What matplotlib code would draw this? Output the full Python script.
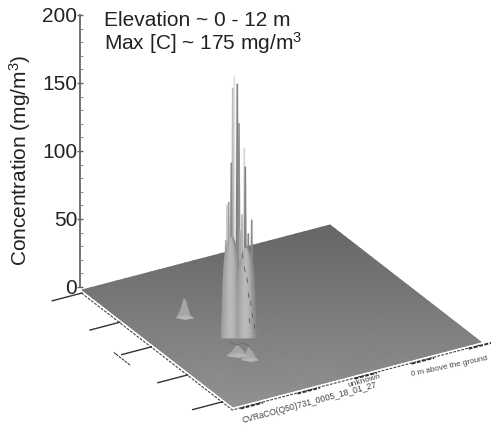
import numpy as np
import matplotlib
matplotlib.use("Agg")
import matplotlib.pyplot as plt

plt.rcParams['font.family'] = ['Liberation Sans', 'DejaVu Sans']
plt.rcParams['mathtext.default'] = 'regular'

# ---- data ----
z_ticks = [0, 50, 100, 150, 200]
# thin spikes: ground u, ground v, concentration height, grey tone
spike_u = [.5493, .5521, .5471, .5565, .5588, .5615, .5665, .5694, .5710, .5744, .5782, .5799, .5849, .5906]
spike_v = [.2502, .2554, .2463, .2632, .2674, .2722, .2813, .2864, .2894, .2954, .3024, .3054, .3144, .3247]
spike_h = [98, 100, 72, 129, 184, 193, 187, 158, 79, 91, 140, 126, 77, 87]
spike_grey = [.78, .62, .68, .55, .74, .88, .50, .56, .66, .70, .84, .50, .52, .55]
# wide lobes at the base of the plume
lobe_u = [.5560, .5810]
lobe_v = [.2640, .3090]
lobe_h = [74, 66]
# low hills on the ground
hill_u = [.3512, .6827, .7283]
hill_v = [.2015, .2134, .2340]
hill_h = [14, 8, 10]
hill_w = [9, 12, 9]
# dark flecks in the right lobe
fleck_u = [.575, .578, .583, .586, .590, .593, .585, .595]
fleck_v = [.296, .303, .310, .314, .320, .325, .318, .332]
fleck_h = [62, 52, 44, 33, 27, 18, 14, 10]
# edge ticks
u_ticks = [0.0, .25, .46, .70, .93]
v_ticks = [.03, .26, .49, .72, .95]

# ---- oblique view ----
ORIGIN = (82.0, 290.0); EU = (151.0, 117.0); EV = (248.0, -65.0)
Z0 = 287.0; ZS = 1.36

def view(u, v, c=0.0):
    u, v, c = np.asarray(u, float), np.asarray(v, float), np.asarray(c, float)
    x = ORIGIN[0] + EU[0]*u + EV[0]*v
    py = ORIGIN[1] + EU[1]*u + EV[1]*v
    return x, (Z0 - py)/ZS + c

def dy(px):  # screen pixel offset expressed in concentration units
    return px/ZS

fig = plt.figure(figsize=(4.97, 4.30), dpi=100)
ax = fig.add_axes([0, 0, 1, 1])
ax.set_xlim(0, 497)
ax.set_ylim((Z0-430)/ZS, Z0/ZS)
ax.patch.set_alpha(0)
for s in ['top', 'right', 'bottom']:
    ax.spines[s].set_visible(False)
ax.spines['left'].set_position(('data', 80))
ax.spines['left'].set_bounds(0, 200)
ax.spines['left'].set_color('#666666')
ax.spines['left'].set_linewidth(1.3)
ax.set_xticks([])
ax.set_yticks(z_ticks)
ax.set_yticks(np.arange(0, 201, 10), minor=True)
ax.tick_params(axis='y', which='major', direction='inout', length=4, width=1, color='#666666', labelsize=15, pad=0, labelcolor='#222222')
ax.tick_params(axis='y', which='minor', direction='in', length=2, width=.7, color='#888888')
ax.text(20, (Z0-160)/ZS, 'Concentration (mg/m$^3$)', rotation=90, ha='center', va='center', fontsize=15, color='#222222')
ax.text(104, (Z0-20)/ZS, 'Elevation ~ 0 - 12 m', ha='left', va='center', fontsize=15, color='#222222')
ax.text(104, (Z0-43)/ZS, 'Max [C] ~ 175 mg/m$^3$', ha='left', va='center', fontsize=15, color='#222222')

# floor
uu, vv = np.meshgrid(np.linspace(0, 1, 30), np.linspace(0, 1, 30))
fx, fy = view(uu, vv)
floor = 0.40 + 0.17*(fy.max()-fy)/(fy.max()-fy.min())
ax.pcolormesh(fx, fy, floor, shading='gouraud', cmap='gray', vmin=0, vmax=1, zorder=1, rasterized=True)

# hills
for u, v, h, w in zip(hill_u, hill_v, hill_h, hill_w):
    bx, by = view(u, v)
    ax.fill([bx-w, bx-w*.55, bx-1.5, bx+.5, bx+w*.6, bx+w, bx],
            [by, by+dy(h*.55), by+h, by+h*.98, by+dy(3), by-dy(.5), by-dy(1)],
            color='#a6a6a6', lw=0, zorder=2)
    ax.fill([bx-w, bx, bx+w, bx+w*.1], [by, by+dy(3), by, by-dy(2)], color='#b6b6b6', lw=0, zorder=2.1)

# plume spikes
for i in np.argsort(spike_h)[::-1]:
    bx, by = view(spike_u[i], spike_v[i])
    h = spike_h[i]
    g = spike_grey[i]
    ax.fill([bx-1.9, bx-.8, bx+.8, bx+1.9], [by, by+h, by+h, by], color=str(g), lw=0, zorder=3)

# plume lobes
cols = np.array([-1, -.6, -.15, .3, .7, 1])
tones = np.array([.62, .68, .74, .70, .60, .52])
for u, v, h in zip(lobe_u, lobe_v, lobe_h):
    bx, by = view(u, v)
    t = np.linspace(0, 1, 20)
    half = 10 - 3*t - 5.5*t**8
    X = bx + np.outer(half, cols)
    Y = np.outer(by + h*t, np.ones_like(cols))
    C = np.outer(np.ones_like(t), tones)
    ax.pcolormesh(X, Y, C, shading='gouraud', cmap='gray', vmin=0, vmax=1, zorder=4, rasterized=True)

for u, v, h in zip(fleck_u, fleck_v, fleck_h):
    bx, by = view(u, v, h)
    ax.plot([bx, bx+.6], [by, by-dy(4)], color='#666666', lw=.7, zorder=5)

# dark lines at the foot of the plume
bx, by = view(.5855, .2846)
ax.plot([bx-12, bx-4, bx+2, bx+7, bx+11], [by-dy(2), by-dy(5), by-dy(3), by-dy(5), by-dy(10)], color='#666666', lw=.5, zorder=5)

# front edges
ex, ey = view([0, 1, 1], [0, 0, 1])
ax.plot(ex, ey-dy(1.6), color='white', lw=1, zorder=6)
ax.plot(ex-.6, ey-dy(3.0), color='#444444', lw=.8, ls=(0, (2.5, 1.2)), zorder=6)

# u-edge ticks
for u in u_ticks:
    x0, y0 = view(u, 0)
    x1, y1 = view(u, -.12)
    ax.plot([x0, x1], [y0-dy(3), y1-dy(3)], color='#333333', lw=1.0, zorder=6)
# v-edge ticks
for v in v_ticks:
    x0, y0 = view(1, v)
    x1, y1 = view(1, v+.09)
    ax.plot([x0, x1], [y0-dy(3.5), y1-dy(3.5)], color='#333333', lw=1.4, ls=(0, (2, .8)), zorder=6)

# small labels
ax.text(121, (Z0-359)/ZS, '------', rotation=-38, ha='center', va='center', fontsize=8, color='#222222', fontweight='bold')
ax.text(364, (Z0-381)/ZS, 'unknown', rotation=16, ha='center', va='center', fontsize=6, color='#444444')
ax.text(310, (Z0-403)/ZS, 'CVRaCO(Q50)731_0005_18_01_27', rotation=15, ha='center', va='center', fontsize=6.2, color='#444444')
ax.text(412, (Z0-378)/ZS, '0 m above the ground', rotation=12, ha='left', va='bottom', rotation_mode='anchor', fontsize=5.8, color='#444444')

fig.savefig('out.png', dpi=100, facecolor='white')
